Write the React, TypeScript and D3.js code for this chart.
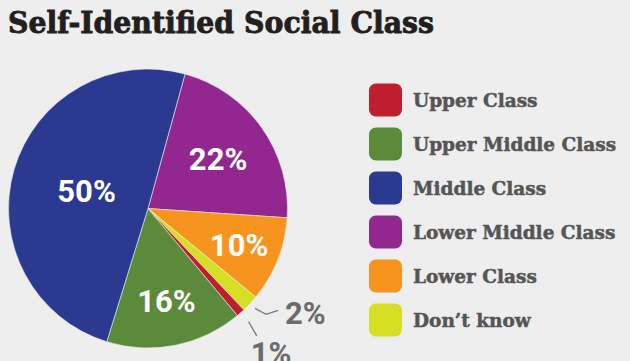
import React from "react";
import * as d3 from "d3";

const categories = ["Lower Middle Class", "Lower Class", "Don\u2019t know", "Upper Class", "Upper Middle Class", "Middle Class"];
const values = [22, 10, 2, 1, 16, 50];
const colors = ["#92278F", "#F7941D", "#D7DF23", "#BE1E2D", "#5B8A3A", "#2B3990"];
const legendOrder = ["Upper Class", "Upper Middle Class", "Middle Class", "Lower Middle Class", "Lower Class", "Don\u2019t know"];
const title = "Self-Identified Social Class";

const W = 630, H = 361;
const cx = 148, cy = 208.5, R = 139.5;
const startDeg = 15.4;
const labelRadius: Record<string, number> = {
  "Lower Middle Class": 86,
  "Lower Class": 98,
  "Upper Middle Class": 94,
  "Middle Class": 64,
};

export default function App() {
  const pie = d3.pie<number>().sort(null)
    .startAngle((startDeg * Math.PI) / 180)
    .endAngle((startDeg * Math.PI) / 180 + 2 * Math.PI);
  const arcs = pie(values);
  const arcGen = d3.arc<d3.PieArcDatum<number>>().innerRadius(0).outerRadius(R);
  const colorOf = (name: string) => colors[categories.indexOf(name)];

  const legendY = d3.scalePoint<string>().domain(legendOrder).range([100, 320]);

  const mid = (a: d3.PieArcDatum<number>) => (a.startAngle + a.endAngle) / 2;
  const polar = (ang: number, r: number): [number, number] => [Math.sin(ang) * r, -Math.cos(ang) * r];

  const iDK = categories.indexOf("Don\u2019t know");
  const iUC = categories.indexOf("Upper Class");
  const aDK = mid(arcs[iDK]);
  const aUC = mid(arcs[iUC]);
  const dkA = polar(aDK, R + 7), dkB = polar(aDK - 0.02, R + 19);
  const dkC: [number, number] = [dkB[0] + 12, dkB[1] - 4];
  const ucA = polar(aUC, R + 12), ucB = polar(aUC + 0.02, R + 28);

  const pctFont = { fontFamily: "Roboto", fontWeight: "bold" as const, fontSize: 31 };

  return (
    <svg width={W} height={H} style={{ position: "absolute", left: 0, top: 0, background: "#EEEEEE" }}>
      <rect width={W} height={H} fill="#EEEEEE" />
      <text x={8} y={33} fontFamily="DejaVu Serif" fontWeight="bold" fontSize={30} fill="#231F20"
        stroke="#231F20" strokeWidth={0.9} textLength={426} lengthAdjust="spacingAndGlyphs">{title}</text>
      <g transform={`translate(${cx},${cy})`}>
        {arcs.map((a, i) => (
          <path key={i} d={arcGen(a) || ""} fill={colors[i]} stroke="#EEEEEE" strokeWidth={0.6} />
        ))}
        {arcs.map((a, i) => {
          const r = labelRadius[categories[i]];
          if (!r) return null;
          const [x, y] = polar(mid(a), r);
          return (
            <text key={"l" + i} x={x} y={y} dy="0.36em" textAnchor="middle" {...pctFont} fill="#FFFFFF">{values[i]}%</text>
          );
        })}
        <polyline points={[dkA, dkB, dkC].map(p => p.join(",")).join(" ")} fill="none" stroke="#7A7A7A" strokeWidth={1.4} />
        <text x={dkC[0] + 7} y={dkC[1] + 3} dy="0.36em" {...pctFont} fill="#6B6B6B">{values[iDK]}%</text>
        <line x1={ucA[0]} y1={ucA[1]} x2={ucB[0]} y2={ucB[1]} stroke="#7A7A7A" strokeWidth={1.4} />
        <text x={ucB[0] - 6} y={ucB[1] + 28} {...pctFont} fill="#6B6B6B">{values[iUC]}%</text>
      </g>
      {legendOrder.map((name) => {
        const y = legendY(name) as number;
        return (
          <g key={name}>
            <rect x={369} y={y - 16.5} width={33} height={33} rx={7} fill={colorOf(name)} />
            <text x={413} y={y + 7} fontFamily="DejaVu Serif" fontWeight="bold" fontSize={18.5}
              fill="#555555" stroke="#555555" strokeWidth={0.5}>{name}</text>
          </g>
        );
      })}
    </svg>
  );
}
